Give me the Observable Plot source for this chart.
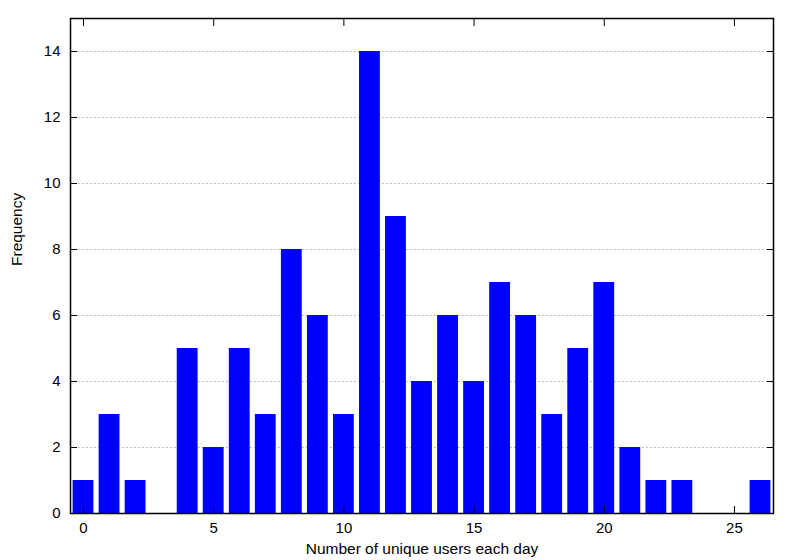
<!DOCTYPE html>
<html><head><meta charset="utf-8">
<script src="https://cdn.jsdelivr.net/npm/d3@7"></script>
<script src="https://cdn.jsdelivr.net/npm/@observablehq/plot@0.6"></script>
<style>
html,body{margin:0;padding:0;background:#fff;}
svg{font-family:"Liberation Sans",Arial,sans-serif;}
</style>
</head><body>
<div id="chart"></div>
<script>
const users = [0,1,2,3,4,5,6,7,8,9,10,11,12,13,14,15,16,17,18,19,20,21,22,23,24,25,26];
const frequency = [1,3,1,0,5,2,5,3,8,6,3,14,9,4,6,4,7,6,3,5,7,2,1,1,0,0,1];
const xTicks = [0,5,10,15,20,25];
const yTicks = [0,2,4,6,8,10,12,14];
const xLabel = "Number of unique users each day";
const yLabel = "Frequency";

const data = users.map((u,i)=>({u, f: frequency[i]})).filter(d=>d.f>0);
const noText = () => "";

const chart = Plot.plot({
  width: 800, height: 560,
  marginLeft: 70, marginRight: 27, marginTop: 18, marginBottom: 47,
  style: {fontSize: "15px", fontFamily: "'Liberation Sans', Arial, sans-serif", color: "#000", background: "#fff"},
  x: {domain: [-0.5, 26.5]},
  y: {domain: [0, 15]},
  marks: [
    Plot.ruleY(yTicks.filter(t=>t>0), {stroke: "#aaa", strokeDasharray: "1.5,2.5", strokeWidth: 1}),
    Plot.rectY(data, {x1: d=>d.u-0.4, x2: d=>d.u+0.4, y1: 0, y2: "f", fill: "#0000ff"}),
    Plot.axisX({anchor: "bottom", ticks: xTicks, tickSize: -7, tickPadding: 16, label: null, stroke:"#000", fontSize: 15}),
    Plot.axisX({anchor: "top", ticks: xTicks, tickSize: -7, tickFormat: noText, label: null, stroke:"#000"}),
    Plot.axisY({anchor: "left", ticks: yTicks, tickSize: -7, tickPadding: 17, label: null, stroke:"#000", fontSize: 15}),
    Plot.axisY({anchor: "right", ticks: yTicks, tickSize: -7, tickFormat: noText, label: null, stroke:"#000"}),
    Plot.frame({stroke: "#000", strokeWidth: 1.5}),
    Plot.text([xLabel], {frameAnchor: "bottom", dy: 40, fontSize: 15.5, fill: "#000"}),
    Plot.text([yLabel], {frameAnchor: "left", dx: -53, rotate: -90, fontSize: 15.5, fill: "#000"})
  ]
});
document.getElementById("chart").appendChild(chart);
</script>
</body></html>
